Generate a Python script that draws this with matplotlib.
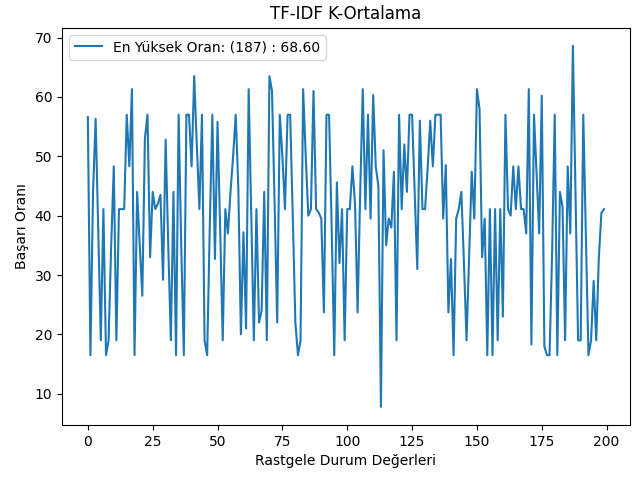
import numpy as np
import matplotlib
matplotlib.use("Agg")
import matplotlib.pyplot as plt

# basari oranlari (random_state 0..199)
random_states = list(range(200))
scores = [
    56.6, 16.5, 44.0, 56.3, 38.0, 19.0, 41.1, 16.5, 19.0, 35.0,
    48.3, 19.0, 41.1, 41.1, 41.1, 57.0, 48.3, 61.3, 16.5, 44.0,
    35.0, 26.5, 53.0, 57.0, 33.0, 44.0, 41.1, 42.0, 43.5, 29.2,
    52.8, 35.0, 19.0, 44.0, 16.5, 57.0, 35.0, 16.5, 57.0, 57.0,
    48.3, 63.5, 52.0, 41.1, 57.0, 19.0, 16.5, 38.0, 57.0, 32.7,
    55.8, 38.0, 19.0, 41.1, 37.0, 44.0, 50.0, 57.0, 45.0, 20.0,
    37.2, 21.0, 61.3, 40.0, 19.0, 41.1, 22.0, 24.0, 44.0, 19.0,
    63.5, 61.0, 42.0, 22.0, 57.0, 50.0, 41.1, 57.0, 57.0, 40.0,
    22.0, 16.5, 19.0, 61.3, 50.0, 40.0, 41.1, 61.0, 41.1, 40.5,
    39.5, 23.7, 57.0, 57.0, 38.0, 16.5, 45.6, 32.0, 41.1, 19.0,
    41.1, 41.1, 48.3, 42.0, 23.7, 44.0, 61.3, 41.1, 57.0, 39.5,
    60.3, 48.3, 45.0, 7.8, 51.0, 35.0, 39.5, 38.0, 47.4, 19.0,
    57.0, 41.1, 52.0, 44.0, 57.0, 57.0, 44.0, 31.0, 56.0, 41.1,
    41.1, 48.0, 56.0, 48.3, 57.0, 57.0, 57.0, 39.5, 48.5, 23.7,
    32.7, 16.5, 39.5, 41.1, 44.0, 32.0, 19.0, 33.0, 47.4, 39.5,
    61.3, 58.0, 33.0, 39.5, 16.5, 41.1, 16.5, 41.1, 19.0, 41.1,
    23.0, 57.0, 41.1, 40.0, 48.3, 41.1, 48.3, 41.1, 41.1, 37.0,
    61.3, 18.3, 57.0, 47.0, 37.0, 60.2, 18.0, 16.5, 16.5, 34.0,
    57.0, 16.5, 44.0, 41.5, 19.0, 48.3, 37.0, 68.6, 44.0, 19.0,
    19.0, 57.0, 37.0, 16.5, 19.0, 29.0, 19.0, 33.0, 40.5, 41.1,
]

best_idx = int(np.argmax(scores))
best_val = scores[best_idx]

fig = plt.figure(figsize=(6.33, 4.79), dpi=100)
ax = fig.add_axes([0.098, 0.113, 0.897, 0.829])

ax.plot(random_states, scores, color="#1f77b4", linewidth=1.5,
        label=f"En Yüksek Oran: ({best_idx}) : {best_val:.2f}")

ax.set_title("TF-IDF K-Ortalama")
ax.set_xlabel("Rastgele Durum Değerleri")
ax.set_ylabel("Başarı Oranı")
ax.legend(loc="upper left")

fig.savefig("out.png", dpi=100)
